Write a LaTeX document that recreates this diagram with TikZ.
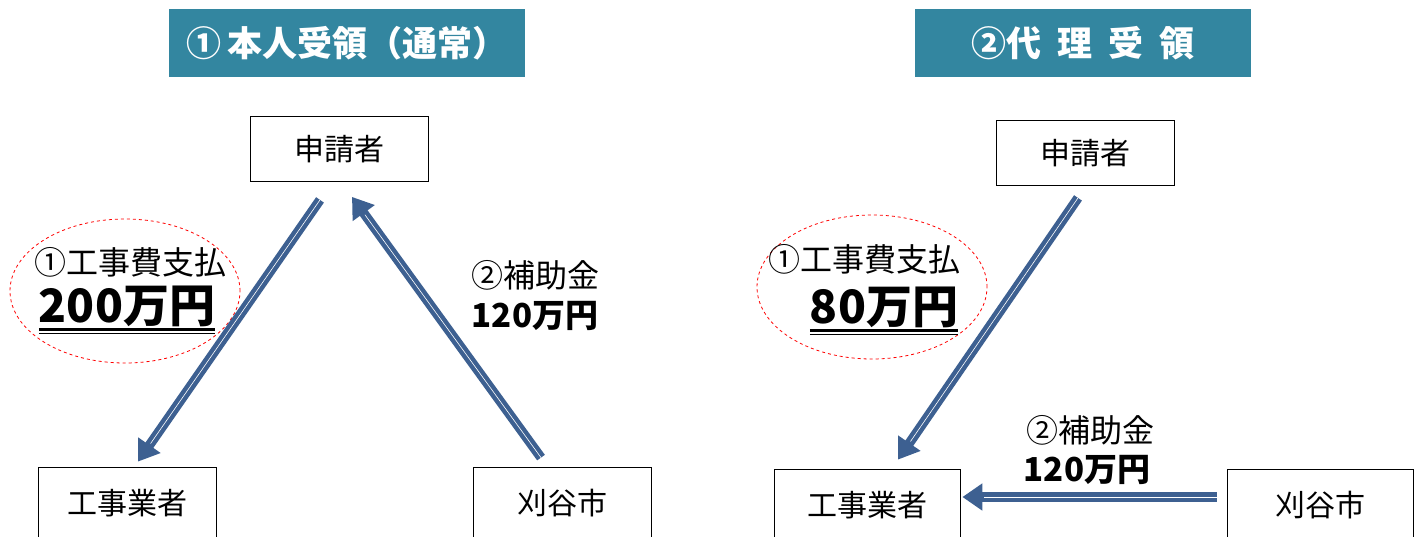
\documentclass[tikz,border=0pt]{standalone}
\usepackage{fontspec}
\setmainfont{Noto Sans CJK JP}
\usetikzlibrary{arrows.meta,shapes.geometric,calc}
\definecolor{titelblau}{RGB}{51,134,160}
\definecolor{pfeilblau}{RGB}{61,96,145}
\newcommand{\fs}[1]{\fontsize{#1}{#1}\selectfont}
\begin{document}
\begin{tikzpicture}[
      x=1pt, y=-1pt,
      titel/.style={rectangle, fill=titelblau, text=white, font=\fs{35}\bfseries,
        minimum height=68, inner sep=0pt},
      kasten/.style={rectangle, draw=black, fill=white, line width=0.8pt,
        minimum width=178, font=\fs{30}, inner sep=0pt},
      pfeil/.style={line width=9.5pt, draw=pfeilblau,
        -{Triangle[length=20pt, width=26pt]}},
      innen/.style={line width=0.6pt, draw=white, shorten >=22pt},
      oval/.style={ellipse, draw=red, dashed, line width=0.8pt,
        minimum width=230, minimum height=144},
      klein/.style={font=\fs{32}, inner sep=0pt},
      betrag/.style={font=\fs{33}\bfseries, inner sep=0pt},
      gross/.style={font=\fs{46}\bfseries, inner sep=0pt}
    ]
    \useasboundingbox (0,0) rectangle (1415,536);
    % titles
    \path (347,43)  node(titelL) [titel, minimum width=356] {①\,本人受領（通常）}
    (1083,43) node(titelR) [titel, minimum width=336] {②代\hspace{0.45em}理\hspace{0.45em}受\hspace{0.45em}領};
    % left: own receipt
    \path (339,149) node(antragL) [kasten, minimum height=65] {申請者}
    (127,503) node(firmaL) [kasten, minimum height=72] {工事業者}
    (562,503) node(stadtL) [kasten, minimum height=72] {刈谷市};
    \path (125,291) node(ovalL) [oval] {}
    (130,262) node(zahlL) [klein] {①工事費支払}
    (127,306) node(summeL) [gross] {200万円}
    (535,275) node(hilfeL) [klein] {②補助金}
    (535,316) node(betragL) [betrag] {120万円};
    \draw[line width=2.5pt] ($(summeL.south west)+(0,3)$) -- ($(summeL.south east)+(0,3)$);
    \draw[line width=1.2pt] ($(summeL.south west)+(0,7)$) -- ($(summeL.south east)+(0,7)$);
    \coordinate (l1) at ($(antragL.south)+(-19,18)$);
    \coordinate (l2) at ($(firmaL.north)+(11,-5)$);
    \coordinate (l3) at ($(stadtL.north)+(-21,-9)$);
    \coordinate (l4) at ($(antragL.south)+(13,15)$);
    \draw[pfeil] (l1) -- (l2);
    \draw[innen] (l1) -- (l2);
    \draw[pfeil] (l3) -- (l4);
    \draw[innen] (l3) -- (l4);
    % right: proxy receipt
    \path (1085,153) node(antragR) [kasten, minimum height=65] {申請者}
    (867,505) node(firmaR) [kasten, minimum height=72, minimum width=186] {工事業者}
    (1320,505) node(stadtR) [kasten, minimum height=72, minimum width=186] {刈谷市};
    \path (872,287) node(ovalR) [oval] {}
    (864,259) node(zahlR) [klein] {①工事費支払}
    (884,307) node(summeR) [gross] {80万円}
    (1090,430) node(hilfeR) [klein] {②補助金}
    (1087,470) node(betragR) [betrag] {120万円};
    \draw[line width=2.5pt] ($(summeR.south west)+(0,3)$) -- ($(summeR.south east)+(0,3)$);
    \draw[line width=1.2pt] ($(summeR.south west)+(0,7)$) -- ($(summeR.south east)+(0,7)$);
    \coordinate (r1) at ($(antragR.south)+(-7,12)$);
    \coordinate (r2) at ($(firmaR.north)+(31,-9)$);
    \coordinate (r3) at ($(stadtR.west)+(-10,-8)$);
    \coordinate (r4) at ($(firmaR.east)+(2,-8)$);
    \draw[pfeil] (r1) -- (r2);
    \draw[innen] (r1) -- (r2);
    \draw[pfeil] (r3) -- (r4);
    \draw[innen] (r3) -- (r4);
  \end{tikzpicture}
\end{document}
